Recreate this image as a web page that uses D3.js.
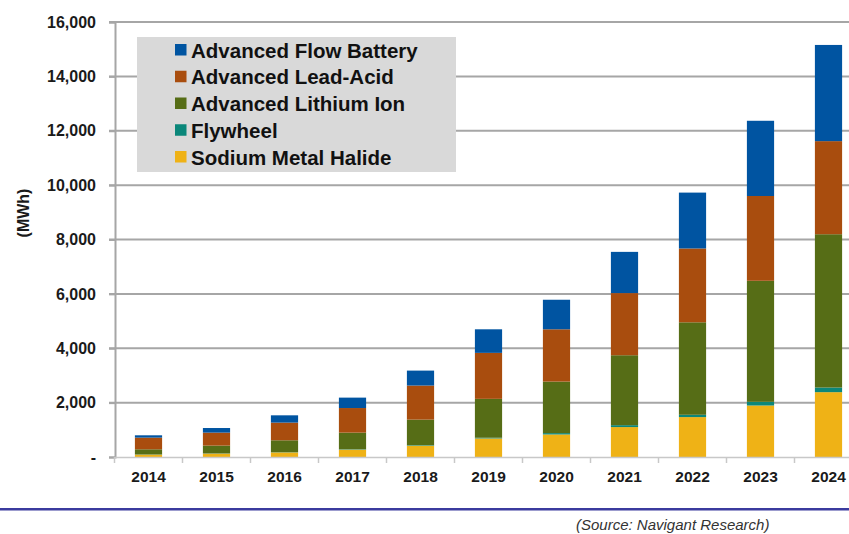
<!DOCTYPE html>
<html>
<head>
<meta charset="utf-8">
<script src="https://cdn.jsdelivr.net/npm/d3@7"></script>
<style>
  html, body { margin: 0; padding: 0; background: #fff; }
  svg { display: block; }
  text { font-family: Arial, "Liberation Sans", sans-serif; }
</style>
</head>
<body>
<svg id="chart" width="849" height="534"></svg>
<script>
const years = ["2014","2015","2016","2017","2018","2019","2020","2021","2022","2023","2024"];
const sodiumMetalHalide = [88, 125, 173, 272, 419, 683, 829, 1101, 1468, 1894, 2385];
const flywheel          = [5, 8, 10, 15, 20, 25, 50, 70, 85, 135, 170];
const advLithiumIon     = [190, 286, 431, 610, 936, 1431, 1895, 2572, 3401, 4452, 5639];
const advLeadAcid       = [430, 478, 651, 904, 1253, 1691, 1923, 2286, 2716, 3119, 3424];
const advFlowBattery    = [85, 169, 268, 383, 550, 867, 1087, 1516, 2055, 2767, 3538];
const yTicks = [0, 2000, 4000, 6000, 8000, 10000, 12000, 14000, 16000];
const seriesNames = ["Sodium Metal Halide", "Flywheel", "Advanced Lithium Ion", "Advanced Lead-Acid", "Advanced Flow Battery"];
const seriesColors = ["#efb216", "#0b877a", "#566d16", "#a94d0e", "#0054a1"];
const legendOrder = ["Advanced Flow Battery", "Advanced Lead-Acid", "Advanced Lithium Ion", "Flywheel", "Sodium Metal Halide"];
const yLabel = "(MWh)";
const sourceText = "(Source: Navigant Research)";

const seriesValues = [sodiumMetalHalide, flywheel, advLithiumIon, advLeadAcid, advFlowBattery];
const table = years.map((y, i) => {
  const row = { year: y };
  seriesNames.forEach((n, k) => row[n] = seriesValues[k][i]);
  return row;
});
const stacked = d3.stack().keys(seriesNames)(table);
const color = d3.scaleOrdinal().domain(seriesNames).range(seriesColors);

const svg = d3.select("#chart");
const x = d3.scaleBand().domain(years).range([114.5, 862.5]).paddingInner(0.6).paddingOuter(0.3);
const y = d3.scaleLinear().domain([0, 16000]).range([457, 22]);

// gridlines
svg.append("g")
  .selectAll("line").data(yTicks.filter(d => d > 0)).join("line")
  .attr("x1", 109).attr("x2", 849)
  .attr("y1", d => y(d)).attr("y2", d => y(d))
  .attr("stroke", "#a6a6a6").attr("stroke-width", 2);

// y axis
const yAxis = d3.axisLeft(y).tickValues(yTicks).tickSize(6)
  .tickFormat(d => d === 0 ? "-" : d3.format(",")(d));
const gy = svg.append("g").attr("transform", "translate(115,0)").call(yAxis);
gy.select(".domain").attr("stroke", "#a6a6a6").attr("stroke-width", 2);
gy.selectAll(".tick line").attr("stroke", "#a6a6a6").attr("stroke-width", 2);
gy.selectAll(".tick text").attr("x", -19)
  .style("font-size", "16px").style("font-weight", "bold").attr("fill", "#1a1a1a")
  .attr("font-family", "Arial, 'Liberation Sans', sans-serif");

// bars
svg.append("g").selectAll("g").data(stacked).join("g")
  .attr("fill", d => color(d.key))
  .selectAll("rect").data(d => d).join("rect")
  .attr("x", d => x(d.data.year))
  .attr("width", x.bandwidth())
  .attr("y", d => y(d[1]))
  .attr("height", d => y(d[0]) - y(d[1]));

// x axis
const xAxis = d3.axisBottom(x).tickSize(0);
const gx = svg.append("g").attr("transform", "translate(0,457)").call(xAxis);
gx.select(".domain").attr("stroke", "#c8c8c8").attr("stroke-width", 1.5);
gx.selectAll(".tick text").attr("dy", 0).attr("y", 25)
  .style("font-size", "15.5px").style("font-weight", "bold").attr("fill", "#1a1a1a")
  .attr("font-family", "Arial, 'Liberation Sans', sans-serif");
// boundary tick marks
svg.append("g").selectAll("line").data(years).join("line")
  .attr("x1", d => x(d) - x.step() * x.paddingInner() / 2)
  .attr("x2", d => x(d) - x.step() * x.paddingInner() / 2)
  .attr("y1", 457).attr("y2", 463)
  .attr("stroke", "#c8c8c8").attr("stroke-width", 1.5);

// y label
svg.append("text")
  .attr("transform", "translate(29,213) rotate(-90)")
  .attr("text-anchor", "middle")
  .style("font-size", "16px").style("font-weight", "bold").attr("fill", "#1a1a1a")
  .text(yLabel);

// legend
const lg = svg.append("g");
lg.append("rect").attr("x", 137).attr("y", 37).attr("width", 319).attr("height", 135).attr("fill", "#d9d9d9");
const rowY = d3.scalePoint().domain(legendOrder).range([50, 157]);
const items = lg.selectAll("g.item").data(legendOrder).join("g").attr("class", "item")
  .attr("transform", d => `translate(0,${rowY(d)})`);
items.append("rect").attr("x", 175).attr("y", -6).attr("width", 11.5).attr("height", 11.5)
  .attr("fill", d => color(d));
items.append("text").attr("x", 191).attr("y", 7.5)
  .style("font-size", "20.5px").style("font-weight", "bold").attr("fill", "#111")
  .text(d => d);

// source separator and text
svg.append("line").attr("x1", 0).attr("x2", 849).attr("y1", 509.3).attr("y2", 509.3)
  .attr("stroke", "#3b3b9e").attr("stroke-width", 2.5);
svg.append("text").attr("x", 576).attr("y", 530)
  .style("font-size", "15px").style("font-style", "italic").attr("fill", "#333")
  .text(sourceText);
</script>
</body>
</html>
